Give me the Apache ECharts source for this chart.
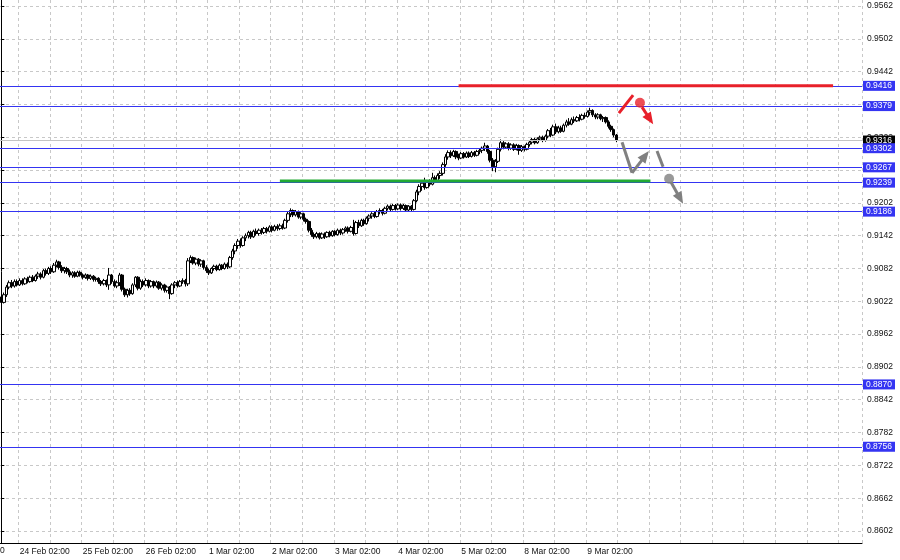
<!DOCTYPE html>
<html><head><meta charset="utf-8">
<script src="https://cdn.jsdelivr.net/npm/echarts@6/dist/echarts.min.js"></script>
<style>html,body{margin:0;padding:0;background:#fff}#c{width:900px;height:560px}</style>
</head><body><div id="c"></div>
<script>
// ---- data ----
const dayNames = ['23 Feb','24 Feb','25 Feb','26 Feb','1 Mar','2 Mar','3 Mar','4 Mar','5 Mar','8 Mar','9 Mar'];
const firstHour = 19;      // first visible H1 bar: 23 Feb 19:00
const totalSlots = 328;    // bar slots across the chart width (incl. empty future)
// H1 candles in pips (x 1e-4): [open, close, low, high]
const candles = [
[9030,9020,9016,9034],[9020,9034,9018,9038],[9034,9048,9030,9052],[9048,9056,9044,9060],
[9056,9050,9046,9061],[9050,9058,9047,9062],[9058,9052,9049,9062],[9052,9060,9050,9064],
[9060,9054,9051,9064],[9054,9063,9052,9066],[9063,9058,9055,9067],[9058,9066,9056,9069],
[9066,9060,9057,9070],[9060,9068,9058,9071],[9068,9072,9063,9076],[9072,9066,9062,9075],
[9066,9078,9064,9081],[9078,9073,9069,9082],[9073,9082,9070,9085],[9082,9076,9072,9086],
[9076,9088,9074,9092],[9088,9094,9084,9098],[9094,9084,9080,9096],[9084,9078,9074,9088],
[9078,9082,9073,9085],[9082,9076,9072,9085],[9076,9070,9066,9080],[9070,9074,9065,9077],
[9074,9068,9065,9077],[9068,9075,9066,9078],[9075,9070,9067,9078],[9070,9066,9062,9073],
[9066,9070,9063,9073],[9070,9064,9060,9072],[9064,9068,9061,9071],[9068,9062,9058,9070],
[9062,9064,9058,9067],[9064,9058,9054,9066],[9058,9054,9050,9061],[9054,9060,9051,9063],
[9060,9052,9048,9062],[9052,9070,9043,9083],[9070,9058,9054,9072],[9058,9050,9047,9062],
[9050,9056,9046,9060],[9056,9070,9050,9074],[9070,9044,9040,9072],[9044,9034,9030,9047],
[9034,9042,9029,9045],[9042,9036,9032,9046],[9036,9052,9034,9055],[9052,9066,9048,9068],
[9066,9046,9042,9068],[9046,9058,9043,9062],[9058,9052,9048,9062],[9052,9060,9049,9064],
[9060,9050,9046,9062],[9050,9058,9047,9061],[9058,9050,9046,9060],[9050,9057,9047,9060],
[9057,9046,9043,9059],[9046,9052,9042,9055],[9052,9042,9038,9054],[9042,9048,9038,9051],
[9048,9036,9026,9050],[9036,9052,9034,9055],[9052,9056,9046,9059],[9056,9050,9047,9060],
[9050,9058,9048,9061],[9058,9060,9054,9064],[9060,9054,9049,9063],[9054,9096,9050,9101],
[9096,9102,9092,9106],[9102,9092,9089,9104],[9092,9099,9088,9102],[9099,9090,9086,9101],
[9090,9096,9085,9099],[9096,9084,9080,9098],[9084,9078,9074,9088],[9078,9074,9070,9082],
[9074,9082,9072,9084],[9082,9086,9078,9089],[9086,9080,9077,9089],[9080,9088,9078,9091],
[9088,9082,9079,9090],[9082,9090,9080,9093],[9090,9085,9081,9093],[9085,9102,9083,9105],
[9102,9114,9098,9118],[9114,9124,9108,9128],[9124,9132,9118,9136],[9132,9124,9120,9137],
[9124,9138,9122,9141],[9138,9142,9132,9146],[9142,9148,9137,9151],[9148,9140,9136,9151],
[9140,9150,9138,9153],[9150,9146,9142,9155],[9146,9152,9142,9155],[9152,9148,9144,9156],
[9148,9155,9145,9158],[9155,9150,9146,9158],[9150,9158,9148,9161],[9158,9152,9148,9161],
[9152,9159,9150,9162],[9159,9155,9151,9163],[9155,9160,9152,9164],[9160,9156,9153,9164],
[9156,9170,9154,9173],[9170,9182,9166,9186],[9182,9188,9176,9192],[9188,9180,9176,9190],
[9180,9186,9177,9189],[9186,9176,9173,9188],[9176,9182,9172,9185],[9182,9172,9168,9184],
[9172,9168,9164,9175],[9168,9152,9148,9170],[9152,9144,9140,9156],[9144,9140,9136,9148],
[9140,9146,9137,9149],[9146,9138,9135,9148],[9138,9145,9136,9148],[9145,9140,9136,9148],
[9140,9148,9138,9150],[9148,9142,9139,9151],[9142,9150,9140,9152],[9150,9144,9141,9152],
[9144,9152,9142,9155],[9152,9147,9143,9155],[9147,9153,9144,9156],[9153,9156,9149,9159],
[9156,9150,9146,9159],[9150,9157,9148,9160],[9157,9146,9142,9171],[9146,9166,9144,9169],
[9166,9160,9156,9171],[9160,9170,9158,9173],[9170,9164,9160,9173],[9164,9174,9162,9177],
[9174,9178,9168,9181],[9178,9182,9173,9185],[9182,9177,9174,9186],[9177,9186,9175,9189],
[9186,9188,9181,9192],[9188,9183,9179,9191],[9183,9192,9181,9195],[9192,9196,9188,9199],
[9196,9190,9187,9199],[9190,9197,9188,9200],[9197,9191,9188,9200],[9191,9198,9189,9201],
[9198,9192,9188,9201],[9192,9197,9189,9200],[9197,9189,9186,9199],[9189,9196,9187,9198],
[9196,9190,9186,9198],[9190,9206,9188,9209],[9206,9222,9203,9226],[9222,9232,9216,9236],
[9232,9238,9224,9243],[9238,9230,9226,9248],[9230,9240,9228,9244],[9240,9236,9232,9245],
[9236,9248,9234,9257],[9248,9242,9238,9252],[9242,9252,9240,9256],[9252,9256,9246,9260],
[9256,9272,9252,9276],[9272,9286,9268,9291],[9286,9294,9281,9298],[9294,9288,9284,9298],
[9288,9296,9286,9299],[9296,9286,9282,9298],[9286,9284,9280,9292],[9284,9292,9282,9295],
[9292,9286,9283,9295],[9286,9293,9284,9296],[9293,9287,9284,9296],[9287,9294,9285,9297],
[9294,9289,9286,9297],[9289,9296,9287,9299],[9296,9298,9291,9301],[9298,9302,9293,9305],
[9302,9306,9297,9312],[9306,9296,9292,9308],[9296,9280,9276,9299],[9280,9268,9260,9284],
[9268,9278,9258,9282],[9278,9300,9275,9303],[9300,9312,9296,9318],[9312,9304,9300,9315],
[9304,9310,9301,9313],[9310,9302,9298,9313],[9302,9308,9299,9311],[9308,9300,9297,9311],
[9300,9307,9298,9310],[9307,9298,9290,9309],[9298,9305,9295,9308],[9305,9300,9296,9307],
[9300,9309,9298,9312],[9309,9313,9305,9316],[9313,9318,9309,9321],[9318,9312,9309,9321],
[9312,9319,9310,9322],[9319,9322,9315,9325],[9322,9316,9313,9325],[9316,9324,9314,9327],
[9324,9334,9320,9337],[9334,9326,9322,9339],[9326,9341,9324,9345],[9341,9332,9328,9347],
[9332,9339,9329,9343],[9339,9333,9330,9343],[9333,9344,9331,9347],[9344,9350,9340,9354],
[9350,9346,9343,9357],[9346,9354,9344,9358],[9354,9352,9348,9360],[9352,9358,9350,9361],
[9358,9355,9351,9364],[9355,9362,9353,9365],[9362,9360,9356,9367],[9360,9368,9358,9371],
[9368,9371,9362,9376],[9371,9363,9359,9373],[9363,9359,9355,9366],[9359,9363,9355,9366],
[9363,9356,9353,9365],[9356,9358,9350,9361],[9358,9350,9347,9360],[9350,9342,9338,9353],
[9342,9336,9332,9345],[9336,9326,9322,9338],[9326,9316,9313,9328]
];
const yTicks = [0.8602,0.8662,0.8722,0.8782,0.8842,0.8902,0.8962,0.9022,0.9082,0.9142,0.9202,0.9262,0.9322,0.9382,0.9442,0.9502,0.9562];
const levels = [0.9416,0.9379,0.9302,0.9267,0.9239,0.9186,0.8870,0.8756];
const currentPrice = 0.9316;
// hand-drawn annotations, [bar index, price]
const greenLevel = [[106,0.9242],[247,0.9242]];
const redLevel   = [[174,0.9416],[316.5,0.9416]];
const redSlash   = [[235.0,0.9366],[240.4,0.9399]];
const redArrow   = [[243.8,0.9377],[246.8,0.9355]];
const redDot     = [243.0,0.9385];
const grayLeg    = [[236.2,0.9313],[240.0,0.9257]];
const grayArrow1 = [[240.0,0.9257],[245.0,0.9288]];
const grayDash   = [[249.5,0.9297],[251.8,0.9268]];
const grayDot    = [254.1,0.9246];
const grayArrow2 = [[254.8,0.9240],[258.3,0.9210]];

// ---- build ----
const cats = [];
dayNames.forEach((d, di) => {
  for (let h = di === 0 ? firstHour : 0; h < 24; h++) {
    if (cats.length < candles.length) cats.push(d + ' ' + String(h).padStart(2,'0') + ':00');
  }
});
while (cats.length < totalSlots) cats.push('');
const ohlc = candles.map(c => c.map(v => v / 10000));

const FONT = 'Liberation Sans';
const blue = '#3434f2';
function seg(p, color, arrow) {
  return [
    {coord: p[0], symbol: 'none', lineStyle: {color: color, width: 3, type: 'solid'}},
    {coord: p[1], symbol: arrow ? 'triangle' : 'none', symbolSize: [10, 12]}
  ];
}
const levelItems = [{yAxis: currentPrice, lineStyle: {color: '#c4c4c4', width: 1, type: 'solid'},
                     label: {backgroundColor: '#000', color: '#fff'}}]
  .concat(levels.map(v => ({yAxis: v, lineStyle: {color: blue, width: 1, type: 'solid'},
                            label: {backgroundColor: blue, color: '#fff'}})));

const chart = echarts.init(document.getElementById('c'), null, {renderer: 'canvas'});
chart.setOption({
  animation: false,
  backgroundColor: '#fff',
  grid: {left: 0, right: 38, top: 0, bottom: 17, containLabel: false, outerBoundsMode: 'none'},
  xAxis: [{
    type: 'category', data: cats, boundaryGap: true,
    axisLine: {show: true, lineStyle: {color: '#000', width: 1}},
    axisTick: {show: false},
    axisLabel: {
      interval: (i, v) => v.endsWith('02:00'),
      align: 'left', margin: 4, fontSize: 8.5, fontFamily: FONT, color: '#111'
    },
    splitLine: {show: true, interval: (i) => i % 12 === 7, lineStyle: {color: '#c8c8c8', type: [3, 3], width: 1}}
  }, {
    type: 'value', min: -0.5, max: totalSlots - 0.5, show: false
  }],
  yAxis: {
    type: 'value', position: 'right', min: 0.8580, max: 0.9573, scale: true,
    axisLine: {show: true, lineStyle: {color: '#000', width: 1}},
    axisTick: {show: true, length: 3, customValues: yTicks, lineStyle: {color: '#000'}},
    axisLabel: {customValues: yTicks, formatter: v => v.toFixed(4), margin: 5, fontSize: 8.5, fontFamily: FONT, color: '#111'},
    splitLine: {show: true, lineStyle: {color: '#c8c8c8', type: [3, 3], width: 1}}
  },
  series: [{
    type: 'candlestick', data: ohlc, barWidth: 3, barMinWidth: 3,
    itemStyle: {color: '#fff', color0: '#000', borderColor: '#000', borderColor0: '#000', borderWidth: 1},
    markLine: {
      silent: true, symbol: ['none', 'none'], animation: false, precision: 4,
      label: {
        position: 'end', distance: 1, formatter: p => Number(p.value).toFixed(4),
        padding: [1, 3, 0, 3], fontSize: 8.5, fontFamily: FONT
      },
      data: levelItems
    }
  }, {
    type: 'line', xAxisIndex: 1, data: greenLevel, symbol: 'none', z: 5,
    lineStyle: {color: '#22aa33', width: 3}
  }, {
    type: 'line', xAxisIndex: 1, data: redLevel, symbol: 'none', z: 5,
    lineStyle: {color: '#e8202a', width: 3}
  }, {
    type: 'scatter', xAxisIndex: 1, z: 6, symbolSize: 10,
    data: [{value: redDot, itemStyle: {color: '#e8202a'}}, {value: grayDot, itemStyle: {color: '#808080'}}],
    markLine: {
      silent: true, animation: false, label: {show: false}, precision: 4,
      data: [
        seg(redSlash, '#e8202a', false),
        seg(redArrow, '#e8202a', true),
        seg(grayLeg, '#808080', false),
        seg(grayArrow1, '#808080', true),
        seg(grayDash, '#808080', false),
        seg(grayArrow2, '#808080', true)
      ]
    }
  }],
  graphic: [{type: 'text', left: 0, top: 546, style: {text: '0', fontSize: 8.5, fontFamily: FONT, fill: '#111'}}]
});
</script>
</body></html>
